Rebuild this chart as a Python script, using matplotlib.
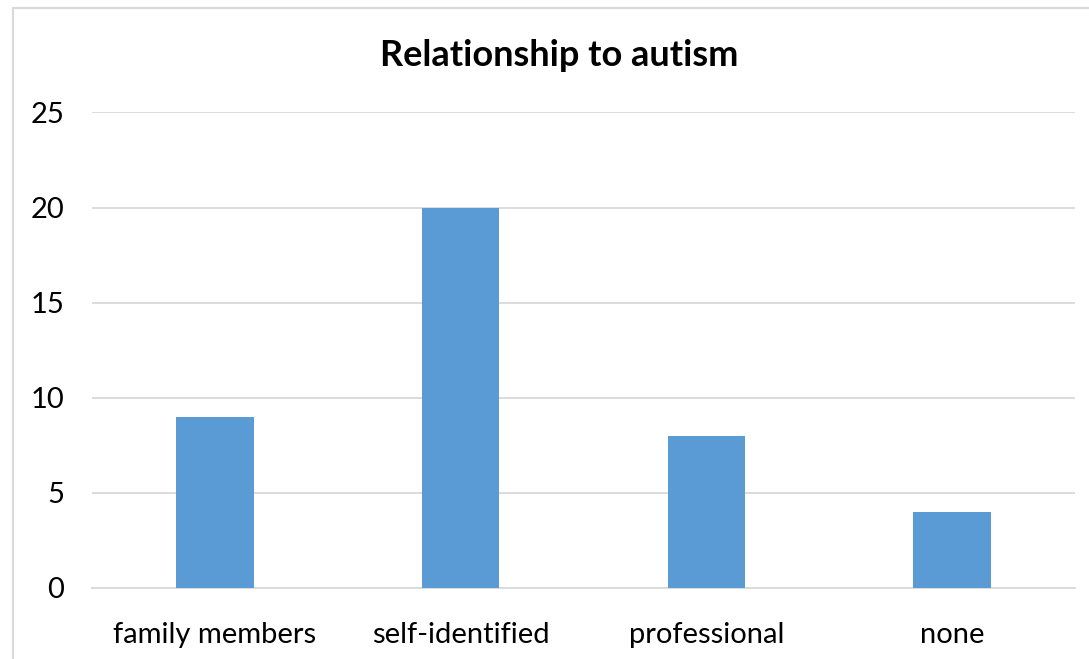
import numpy as np
import matplotlib.pyplot as plt
from matplotlib.patches import Rectangle

categories = ['family members', 'self-identified', 'professional', 'none']
counts = [9, 20, 8, 4]
yticks = [0, 5, 10, 15, 20, 25]

plt.rcParams['font.family'] = ['Lato', 'DejaVu Sans']

fig = plt.figure(figsize=(10.89, 6.59), dpi=100)
ax = fig.add_axes([0.0845, 0.1082, 0.9027, 0.7211])

x = np.arange(len(categories))
ax.bar(x, counts, width=0.315, color='#5B9BD5', zorder=3)

ax.set_xlim(-0.5, len(categories) - 0.5)
ax.set_ylim(0, 25)
ax.set_yticks(yticks)
ax.set_xticks(x)
ax.set_xticklabels(categories)
ax.yaxis.grid(True, color='#D9D9D9', linewidth=1.3, zorder=0)
ax.tick_params(axis='both', length=0, labelsize=21, colors='black')
ax.tick_params(axis='y', pad=20)
ax.tick_params(axis='x', pad=25)
for s in ['top', 'right', 'left']:
    ax.spines[s].set_visible(False)
ax.spines['bottom'].set_color('#D9D9D9')
ax.spines['bottom'].set_linewidth(1.3)

# chart frame
fig.patches.append(Rectangle((13 / 1089, -0.1), 1.2, 1 - 8 / 659 + 0.1,
                             transform=fig.transFigure, fill=False,
                             edgecolor='#D9D9D9', linewidth=1.5))

fig.text(559 / 1089, 1 - 55 / 659, 'Relationship to autism', ha='center',
         va='center', fontsize=26, fontweight='bold')

fig.savefig('out.png', dpi=100)
